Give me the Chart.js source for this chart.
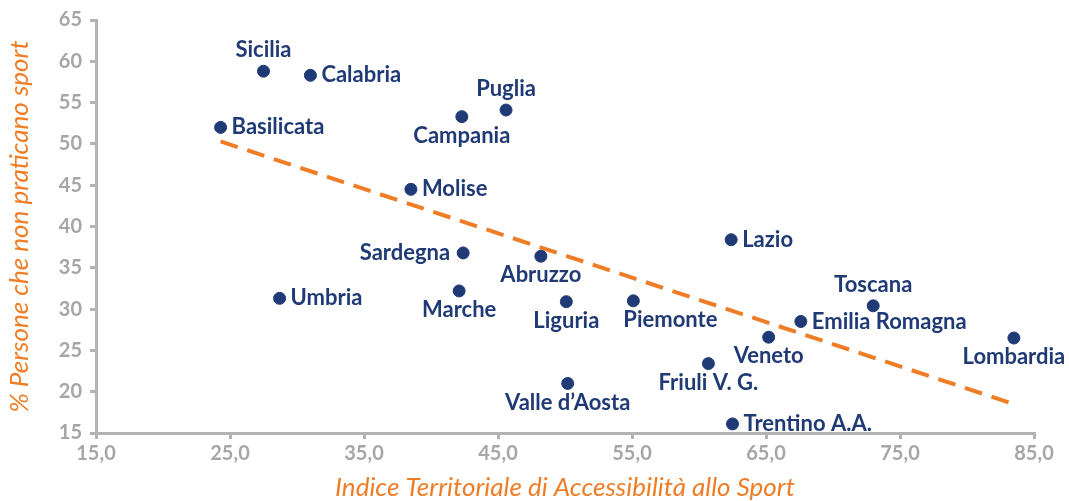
<!DOCTYPE html>
<html>
<head>
<meta charset="utf-8">
<script src="https://cdn.jsdelivr.net/npm/chart.js@4/dist/chart.umd.min.js"></script>
<style>
  html, body { margin: 0; padding: 0; background: #fff; }
  #wrap { width: 1069px; height: 501px; }
</style>
</head>
<body>
<div id="wrap"><canvas id="chart-sport"></canvas></div>
<script>
// regioni, indice di accessibilità (x) e % persone che non praticano sport (y)
const regioni = ['Sicilia', 'Calabria', 'Basilicata', 'Puglia', 'Campania', 'Molise', 'Sardegna', 'Abruzzo',
  'Umbria', 'Marche', 'Liguria', 'Piemonte', "Valle d\u2019Aosta", 'Friuli V. G.', 'Lazio', 'Toscana',
  'Emilia Romagna', 'Veneto', 'Lombardia', 'Trentino A.A.'];
const indice = [27.5, 31.0, 24.3, 45.6, 42.3, 38.5, 42.4, 48.2, 28.7, 42.1, 50.1, 55.1, 50.2, 60.7, 62.4, 73.0, 67.6, 65.2, 83.5, 62.5];
const nonPraticano = [58.8, 58.3, 52.0, 54.1, 53.3, 44.5, 36.8, 36.4, 31.3, 32.2, 30.9, 31.0, 21.0, 23.4, 38.4, 30.4, 28.5, 26.6, 26.5, 16.1];
// dove mettere l'etichetta rispetto al punto
const posEtichetta = ['above', 'right', 'right', 'above', 'below', 'right', 'left', 'below', 'right', 'below',
  'below', 'belowRight', 'below', 'below', 'right', 'above', 'right', 'below', 'below', 'right'];
// linea di tendenza (estremi)
const trendX = [24.3, 83.5];
const trendY = [50.3, 18.5];

const navy = '#1f3a75';
const orange = '#ef7d26';
const gray = '#a6a6a6';

const etichette = {
  id: 'etichette',
  afterDatasetsDraw(chart) {
    const ctx = chart.ctx;
    const meta = chart.getDatasetMeta(0);
    ctx.save();
    ctx.font = 'bold 22px Lato';
    ctx.fillStyle = navy;
    ctx.textBaseline = 'middle';
    meta.data.forEach((pt, i) => {
      const pos = posEtichetta[i];
      let x = pt.x, y = pt.y;
      if (pos === 'above') { ctx.textAlign = 'center'; y -= 21; }
      else if (pos === 'below') { ctx.textAlign = 'center'; y += 19; }
      else if (pos === 'belowRight') { ctx.textAlign = 'left'; x -= 10; y += 19; }
      else if (pos === 'right') { ctx.textAlign = 'left'; x += 11; }
      else { ctx.textAlign = 'right'; x -= 13; }
      ctx.fillText(regioni[i], x, y);
    });
    ctx.restore();
  }
};

const canvas = document.getElementById('chart-sport');
let chart = new Chart(canvas, {
  type: 'scatter',
  data: {
    datasets: [{
      label: 'Regioni',
      data: indice.map((x, i) => ({ x: x, y: nonPraticano[i] })),
      backgroundColor: navy,
      borderColor: navy,
      pointRadius: 6,
      pointHoverRadius: 6
    }, {
      type: 'line',
      label: 'Tendenza',
      data: trendX.map((x, i) => ({ x: x, y: trendY[i] })),
      borderColor: orange,
      borderWidth: 4,
      borderDash: [18, 10],
      pointRadius: 0,
      fill: false
    }]
  },
  options: {
    responsive: true,
    maintainAspectRatio: false,
    animation: false,
    layout: { padding: { top: 20, right: 35, left: 0, bottom: 0 } },
    plugins: { legend: { display: false }, tooltip: { enabled: false } },
    scales: {
      x: {
        type: 'linear',
        min: 15, max: 85,
        afterFit: s => { s.height = 68; },
        border: { color: '#b3b3b3', width: 3 },
        grid: { drawOnChartArea: false, drawTicks: true, tickLength: 6, color: '#b3b3b3', lineWidth: 3 },
        ticks: {
          stepSize: 10, padding: 3, color: gray,
          font: { family: 'Lato', size: 20, weight: 'bold' },
          callback: v => v.toFixed(1).replace('.', ',')
        },
        title: {
          display: true,
          text: 'Indice Territoriale di Accessibilit\u00e0 allo Sport',
          color: orange,
          font: { family: 'Lato', size: 26, style: 'italic' },
          padding: { top: 0, bottom: -2 }
        }
      },
      y: {
        min: 15, max: 65,
        afterFit: s => { s.width = 96; },
        border: { color: '#b3b3b3', width: 3 },
        grid: { drawOnChartArea: false, drawTicks: true, tickLength: 6, color: '#b3b3b3', lineWidth: 3 },
        ticks: {
          stepSize: 5, padding: 8, color: gray,
          font: { family: 'Lato', size: 20, weight: 'bold' }
        },
        title: {
          display: true,
          text: '% Persone che non praticano sport',
          color: orange,
          font: { family: 'Lato', size: 26, style: 'italic' },
          padding: { top: 4, bottom: 0 }
        }
      }
    }
  },
  plugins: [etichette]
});
</script>
</body>
</html>
